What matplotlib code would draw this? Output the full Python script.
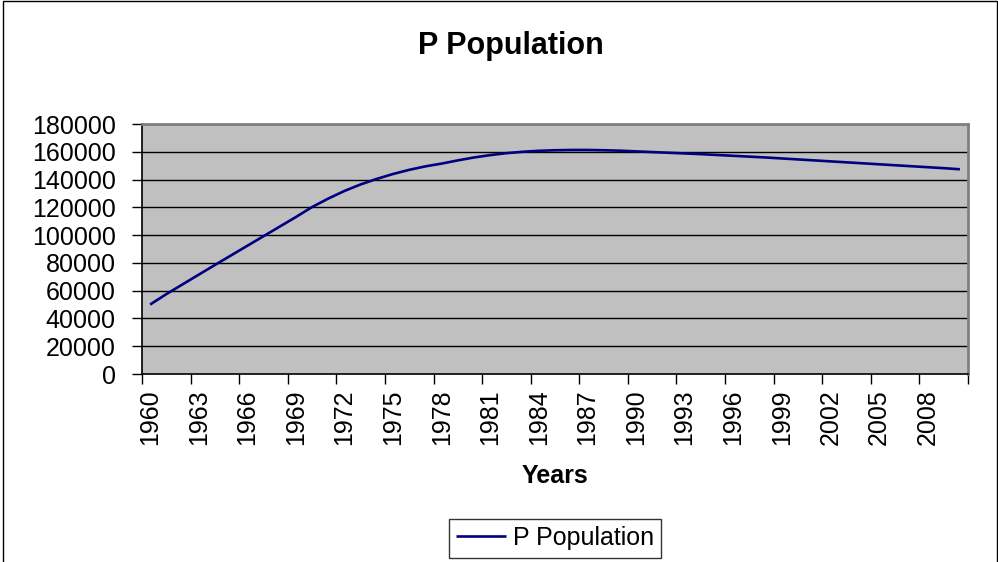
import matplotlib
matplotlib.use("Agg")
import matplotlib.pyplot as plt
from matplotlib.patches import Rectangle
from matplotlib.ticker import FixedLocator

# values
years = list(range(1960, 2011))
population = [
    50000, 57500, 64500, 71500, 78500, 85400, 92300, 99200, 106100, 113000,
    120200, 126300, 131800, 136500, 140500, 144000, 147000, 149500, 151500, 153800,
    155900, 157600, 159000, 160000, 160700, 161100, 161300, 161300, 161100, 160800,
    160300, 159800, 159300, 158800, 158300, 157700, 157100, 156500, 155900, 155200,
    154500, 153800, 153100, 152400, 151700, 151000, 150300, 149600, 148900, 148200,
    147400,
]
y_ticks = list(range(0, 180001, 20000))

W, H = 998, 562
FONT = 'Liberation Sans'
TICK_FS = 18

plt.rcParams['font.family'] = [FONT, 'DejaVu Sans']

fig = plt.figure(figsize=(W / 100, H / 100), dpi=100)
fig.patch.set_facecolor('white')

# plot area in pixels: x 142..968, y 124..374
ax = fig.add_axes([142 / W, 1 - 374 / H, (968 - 142) / W, (374 - 124) / H])
ax.set_facecolor('#c0c0c0')

x = list(range(len(years)))
ax.plot(x, population, color='#000080', linewidth=1.9, solid_capstyle='butt', zorder=3)

ax.set_xlim(-0.5, len(years) - 0.5)
ax.set_ylim(0, 180000)

# y axis
ax.set_yticks(y_ticks)
ax.set_yticklabels([str(v) for v in y_ticks])
ax.tick_params(axis='y', direction='out', length=7, width=1, color='black',
               labelsize=TICK_FS, pad=12)
for v in y_ticks[1:]:
    ax.axhline(v, color='black', linewidth=1.0, zorder=1)

# x axis: labels on categories, tick marks on boundaries
label_pos = x[::3]
ax.xaxis.set_major_locator(FixedLocator(label_pos))
ax.set_xticklabels([str(years[i]) for i in label_pos], rotation=90)
ax.xaxis.set_minor_locator(FixedLocator([p - 0.5 for p in label_pos] + [len(years) - 0.5]))
ax.tick_params(axis='x', which='major', length=0, labelsize=TICK_FS, pad=11)
ax.tick_params(axis='x', which='minor', direction='out', length=7, width=1, color='black')

for side in ['top', 'right']:
    ax.spines[side].set_color('#808080')
    ax.spines[side].set_linewidth(2)
for side in ['left', 'bottom']:
    ax.spines[side].set_color('black')
    ax.spines[side].set_linewidth(1.2)

fig.text(511 / W, 1 - 46 / H, 'P Population', ha='center', va='center',
         fontsize=22, fontweight='bold')
fig.text(555 / W, 1 - 476 / H, 'Years', ha='center', va='center',
         fontsize=18, fontweight='bold')

leg = fig.legend(['P Population'], loc='center', bbox_to_anchor=(555 / W, 1 - 538 / H),
                 fontsize=TICK_FS, frameon=True, fancybox=False, handlelength=2.0,
                 handletextpad=0.25, borderpad=0.3, borderaxespad=0)
leg.get_frame().set_edgecolor('black')
leg.get_frame().set_linewidth(1)

# outer chart border, runs off the bottom edge
fig.patches.append(Rectangle((3 / W, -0.05), 994 / W, 1.05 - 1 / H, transform=fig.transFigure,
                             fill=False, edgecolor='black', linewidth=1))

fig.savefig('out.png', dpi=100)
